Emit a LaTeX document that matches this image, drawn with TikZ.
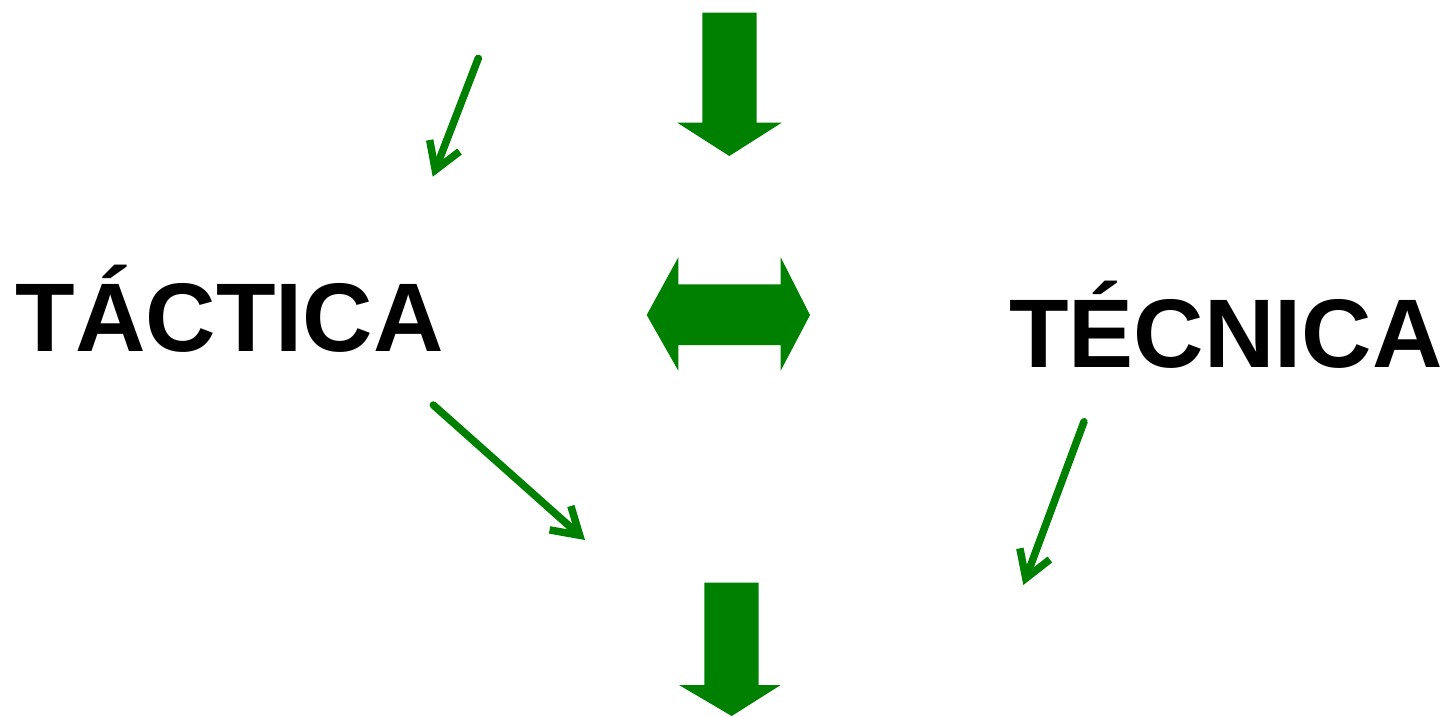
\documentclass[tikz,border=0pt]{standalone}
\usepackage{fontspec}
\setmainfont{Liberation Sans}
\usetikzlibrary{arrows.meta}
\definecolor{dgreen}{RGB}{0,128,0}
\tikzset{
  label text/.style={font=\fontsize{97.5}{110}\selectfont\bfseries, inner sep=0pt, anchor=base west, text=black},
  thin arrow/.style={draw=dgreen, line width=7.5pt, line cap=round, -{Straight Barb[length=26pt, width=32pt]}},
  block arrow/.style={fill=dgreen, draw=none}
}
\begin{document}
\begin{tikzpicture}[x=1pt, y=-1pt]
\useasboundingbox (0,0) rectangle (1443,716);
% labels
\node[label text] (tactica) at (15.5,351) {TÁCTICA};
\node[label text] (tecnica) at (1009,367.3) {TÉCNICA};
% big top arrow
\fill[block arrow] (702.3,12.7) -- (756.7,12.7) -- (756.7,122.7) -- (781.7,122.7) -- (729.3,156) -- (677.3,122.7) -- (702.3,122.7) -- cycle;
% big bottom arrow
\fill[block arrow] (704.3,582.7) -- (758.7,582.7) -- (758.7,685) -- (780.7,685) -- (731.7,716) -- (679,685) -- (704.3,685) -- cycle;
% double arrow
\fill[block arrow] (646.7,315) -- (678.3,257.3) -- (678.3,284.3) -- (780.7,284.3) -- (780.7,257.3) -- (810,315) -- (780.7,370.7) -- (780.7,345) -- (678.3,345) -- (678.3,370.7) -- cycle;
% thin arrows
\coordinate (a1s) at (478.3,58.3);
\coordinate (a1e) at (432.7,176.7);
\coordinate (a2s) at (433.3,405);
\coordinate (a2e) at (585,540);
\coordinate (a3s) at (1084,421.7);
\coordinate (a3e) at (1023.3,585);
\draw[thin arrow] (a1s) -- (a1e);
\draw[thin arrow] (a2s) -- (a2e);
\draw[thin arrow] (a3s) -- (a3e);
\end{tikzpicture}
\end{document}
